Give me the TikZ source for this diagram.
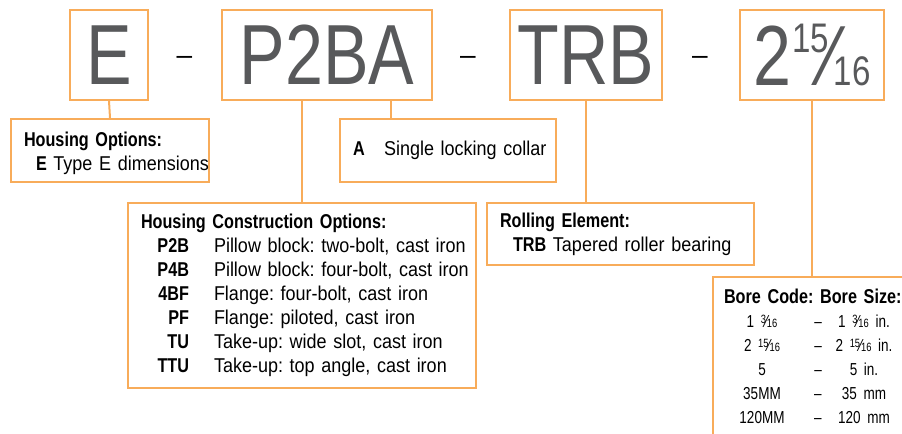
\documentclass[tikz,border=0pt]{standalone}
\usepackage{fontspec}
\setmainfont{Liberation Sans}
\newfontfamily\bigfam{Liberation Sans}[FakeStretch=0.8]
\newfontfamily\txtfam{Liberation Sans}[FakeStretch=0.9]
\newfontfamily\hdfam{Liberation Sans}[FakeStretch=0.81]
\newfontfamily\borefam{Liberation Sans}[FakeStretch=0.78]
\usetikzlibrary{positioning}

\definecolor{rimorange}{RGB}{248,172,90}
\definecolor{codegrey}{RGB}{88,89,91}

\newcommand\hd[1]{{\hdfam\bfseries #1}}
\newcommand\bigfrac[3]{#1\kern0.5pt\raisebox{25pt}{\fontsize{31}{31}\selectfont #2}\kern-2.5pt⁄\kern-2.5pt{\fontsize{31}{31}\selectfont #3}}
\newcommand\smfrac[2]{\raisebox{3.2pt}{\fontsize{9}{9}\selectfont #1}\kern-.5pt⁄\kern-.5pt{\fontsize{9}{9}\selectfont #2}}

\tikzset{
	codebox/.style={draw=rimorange, line width=1.5pt, minimum height=67.5pt, inner sep=0pt,
		text=codegrey, font=\bigfam\fontsize{64}{64}\selectfont},
	infobox/.style={draw=rimorange, line width=1.5pt, anchor=north west, align=left,
		inner ysep=0pt, inner xsep=9.75pt, font=\txtfam\fontsize{15}{18}\selectfont,
		execute at begin node=\frenchspacing},
	sepdash/.style={font=\fontsize{21}{21}\selectfont, inner sep=0pt},
	conn/.style={color=rimorange, line width=1.5pt}
}

\begin{document}
\begin{tikzpicture}
	[x=0.75pt,y=-0.75pt]
	\useasboundingbox (0,0) rectangle (902,434);
	\clip (0,0) rectangle (902,434);
	% part number
	\node[codebox, minimum width=58.5pt] (e) at (109,55) {E};
	\node[codebox, minimum width=157.5pt] (p2ba) at (327,55) {P2BA};
	\node[codebox, minimum width=114pt] (trb) at (586,55) {TRB};
	\node[codebox, minimum width=108pt] (bsize) at (812,55) {\bigfrac{2}{15}{16}};
	\foreach \x/\n in {184.5/d1,468/d2,700/d3}
	\node[sepdash] (\n) at (\x,60.5) {–};
	
	% option boxes
	\node[infobox, text width=129pt, minimum height=47.25pt] (hopt) at (10,118)
		{\mbox{\rule{0pt}{14.5pt}\hd{Housing Options:}}\\\mbox{\hspace*{9pt}\hd{E} Type E dimensions}};
	\node[infobox, text width=142.5pt, minimum height=47.25pt] (acol) at (339,118)
		{\mbox{\makebox[23.25pt][l]{\hd{A}}Single locking collar}};
	\node[infobox, text width=241.5pt, minimum height=138.75pt] (hco) at (127,202)
		{\mbox{\hd{Housing Construction Options:}}\\
		\mbox{\makebox[36pt][r]{\hd{P2B}}\hspace{18.75pt}Pillow block: two-bolt, cast iron}\\
		\mbox{\makebox[36pt][r]{\hd{P4B}}\hspace{18.75pt}Pillow block: four-bolt, cast iron}\\
		\mbox{\makebox[36pt][r]{\hd{4BF}}\hspace{18.75pt}Flange: four-bolt, cast iron}\\
		\mbox{\makebox[36pt][r]{\hd{PF}}\hspace{18.75pt}Flange: piloted, cast iron}\\
		\mbox{\makebox[36pt][r]{\hd{TU}}\hspace{18.75pt}Take-up: wide slot, cast iron}\\
		\mbox{\makebox[36pt][r]{\hd{TTU}}\hspace{18.75pt}Take-up: top angle, cast iron}};
	\node[infobox, text width=180.75pt, minimum height=46.5pt] (roll) at (486,202)
		{\mbox{\hd{Rolling Element:}}\\\mbox{\hspace*{9.75pt}\hd{TRB} Tapered roller bearing}};
	\node[infobox, text width=200pt, inner ysep=9pt, inner xsep=8.25pt] (bore) at (712,276)
		{\mbox{\hd{Bore Code:\hspace{5pt}Bore Size:}}\\
		\borefam\fontsize{13}{18}\selectfont
		\makebox[57pt]{1 \smfrac{3}{16}}\makebox[27pt]{–}\makebox[42pt]{1 \smfrac{3}{16} in.}\\
		\makebox[57pt]{2 \smfrac{15}{16}}\makebox[27pt]{–}\makebox[42pt]{2 \smfrac{15}{16} in.}\\
		\makebox[57pt]{5}\makebox[27pt]{–}\makebox[42pt]{5 in.}\\
		\makebox[57pt]{35MM}\makebox[27pt]{–}\makebox[42pt]{35 mm}\\
		\makebox[57pt]{120MM}\makebox[27pt]{–}\makebox[42pt]{120 mm}};
	
	% connectors
	\coordinate (aline) at (391,0);
	\draw[conn] (e.south) -- (hopt.north);
	\draw[conn] (p2ba.south -| hco.north) -- (hco.north);
	\draw[conn] (p2ba.south -| aline) -- (acol.north -| aline);
	\draw[conn] (trb.south) -- (trb.south |- roll.north);
	\draw[conn] (bsize.south) -- (bsize.south |- bore.north);
\end{tikzpicture}
\end{document}
